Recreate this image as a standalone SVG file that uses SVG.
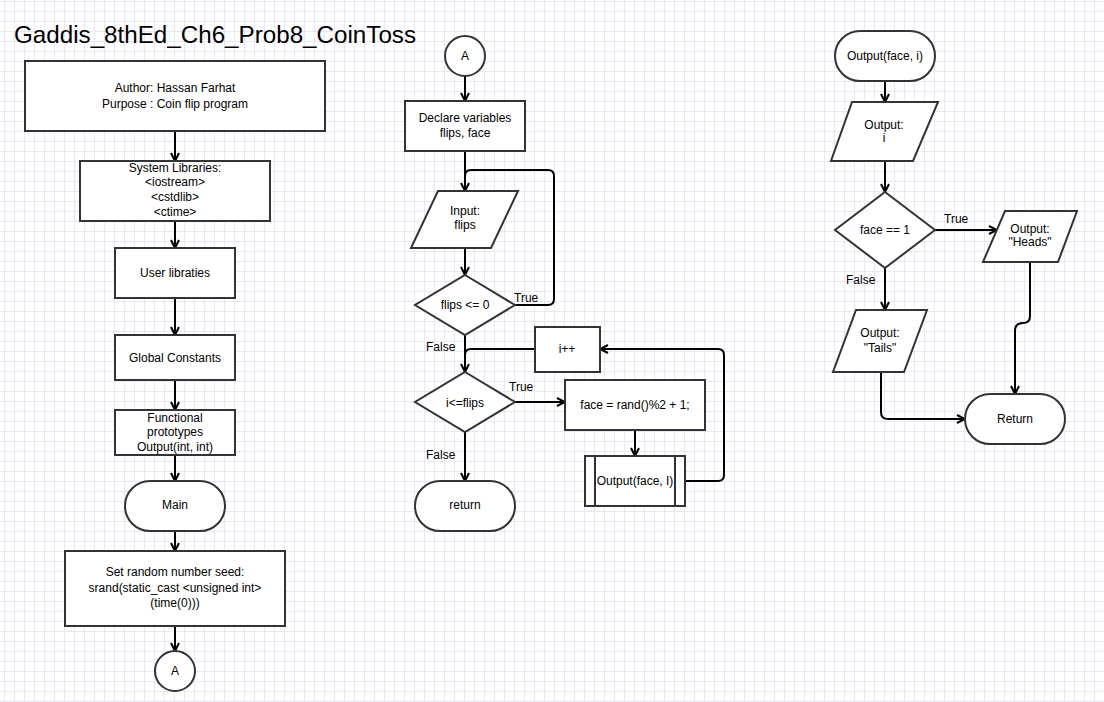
<svg xmlns="http://www.w3.org/2000/svg" width="1104" height="702" viewBox="0 0 1104 702">
<defs>
<pattern id="grid" x="0" y="0" width="10" height="10" patternUnits="userSpaceOnUse">
<path d="M4.5,0 V10 M0,1.5 H10" stroke="#e9e7f6" stroke-width="1" fill="none"/>
</pattern>
<marker id="arr" viewBox="0 0 10 10" refX="9" refY="5" markerWidth="10" markerHeight="10" markerUnits="userSpaceOnUse" orient="auto">
<path d="M1,1 L9,5 L1,9" fill="none" stroke="#000" stroke-width="2"/>
</marker>
<style>
.n{fill:#fff;stroke:#333;stroke-width:2}
.t{font-family:"Liberation Sans",Arial,sans-serif;font-size:12px;fill:#000;text-anchor:middle}
.l{font-family:"Liberation Sans",Arial,sans-serif;font-size:12px;fill:#000}
.c{fill:none;stroke:#000;stroke-width:2}
.a{fill:none;stroke:#000;stroke-width:2;marker-end:url(#arr)}
</style>
</defs>
<rect width="1104" height="702" fill="#fff"/>
<rect width="1104" height="702" fill="url(#grid)"/>
<text x="14" y="43" style="font-family:'Liberation Sans',Arial,sans-serif;font-size:24.2px;fill:#000">Gaddis_8thEd_Ch6_Prob8_CoinToss</text>

<g id="connectors">
<line class="a" x1="175" y1="131" x2="175" y2="161"/>
<line class="a" x1="175" y1="221" x2="175" y2="248"/>
<line class="a" x1="175" y1="298" x2="175" y2="335"/>
<line class="a" x1="175" y1="380" x2="175" y2="410"/>
<line class="a" x1="175" y1="455" x2="175" y2="481"/>
<line class="a" x1="175" y1="531" x2="175" y2="551"/>
<line class="a" x1="175" y1="626" x2="175" y2="651"/>

<line class="a" x1="465" y1="76" x2="465" y2="101"/>
<line class="a" x1="465" y1="151" x2="465" y2="191"/>
<path class="c" d="M515,305 H548 Q554,305 554,299 V176 Q554,170 548,170 H471 Q465,170 465,176 V190"/>
<line class="a" x1="465" y1="248" x2="465" y2="275"/>
<line class="a" x1="465" y1="335" x2="465" y2="372"/>
<path class="c" d="M535,349 H471 Q465,349 465,355 V371"/>
<line class="a" x1="515" y1="402" x2="565" y2="402"/>
<line class="a" x1="635" y1="430" x2="635" y2="456"/>
<path class="a" d="M685,481 H718 Q724,481 724,475 V355 Q724,349 718,349 H600"/>
<line class="a" x1="465" y1="432" x2="465" y2="481"/>

<line class="a" x1="885" y1="81" x2="885" y2="102"/>
<line class="a" x1="885" y1="161" x2="885" y2="192"/>
<line class="a" x1="935" y1="230" x2="997" y2="230"/>
<path class="a" d="M1030,262 V316 Q1030,323 1023,323 Q1015,323 1015,331 V394"/>
<line class="a" x1="885" y1="268" x2="885" y2="310"/>
<path class="a" d="M881,372 V412 Q881,419 888,419 H965"/>

<text class="l" x="514" y="302">True</text>
<text class="l" x="426" y="351">False</text>
<text class="l" x="509" y="391">True</text>
<text class="l" x="426" y="459">False</text>
<text class="l" x="944" y="223">True</text>
<text class="l" x="846" y="284">False</text>
</g>

<g id="author">
<rect class="n" x="25" y="61" width="300" height="70"/>
<text class="t" x="175" y="92">Author: Hassan Farhat</text>
<text class="t" x="175" y="108">Purpose : Coin flip program</text>
</g>
<g id="syslibs">
<rect class="n" x="80" y="161" width="190" height="60"/>
<text class="t" x="175" y="172">System Libraries:</text>
<text class="t" x="175" y="186">&lt;iostream&gt;</text>
<text class="t" x="175" y="201">&lt;cstdlib&gt;</text>
<text class="t" x="175" y="216">&lt;ctime&gt;</text>
</g>
<g id="userlibs">
<rect class="n" x="115" y="248" width="120" height="50"/>
<text class="t" x="175" y="277">User libraties</text>
</g>
<g id="globals">
<rect class="n" x="115" y="335" width="120" height="45"/>
<text class="t" x="175" y="362">Global Constants</text>
</g>
<g id="prototypes">
<rect class="n" x="115" y="410" width="120" height="45"/>
<text class="t" x="175" y="422">Functional</text>
<text class="t" x="175" y="436">prototypes</text>
<text class="t" x="175" y="451">Output(int, int)</text>
</g>
<g id="main">
<rect class="n" x="125" y="481" width="100" height="50" rx="25" ry="25"/>
<text class="t" x="175" y="509">Main</text>
</g>
<g id="seed">
<rect class="n" x="65" y="551" width="220" height="75"/>
<text class="t" x="175" y="576">Set random number seed:</text>
<text class="t" x="175" y="592">srand(static_cast &lt;unsigned int&gt;</text>
<text class="t" x="175" y="607">(time(0)))</text>
</g>
<g id="connA1">
<circle class="n" cx="175" cy="671" r="20"/>
<text class="t" x="175" y="675">A</text>
</g>

<g id="connA2">
<circle class="n" cx="465" cy="56" r="20"/>
<text class="t" x="465" y="60">A</text>
</g>
<g id="declare">
<rect class="n" x="405" y="101" width="120" height="50"/>
<text class="t" x="465" y="122">Declare variables</text>
<text class="t" x="465" y="137">flips, face</text>
</g>
<g id="input">
<polygon class="n" points="438,191 518,191 491,248 411,248"/>
<text class="t" x="465" y="215">Input:</text>
<text class="t" x="465" y="229">flips</text>
</g>
<g id="checkflips">
<polygon class="n" points="465,275 515,305 465,335 415,305"/>
<text class="t" x="465" y="309">flips &lt;= 0</text>
</g>
<g id="loopcond">
<polygon class="n" points="465,372 515,402 465,432 415,402"/>
<text class="t" x="465" y="407">i&lt;=flips</text>
</g>
<g id="incr">
<rect class="n" x="535" y="327" width="65" height="45"/>
<text class="t" x="567" y="353">i++</text>
</g>
<g id="face">
<rect class="n" x="565" y="380" width="140" height="50"/>
<text class="t" x="635" y="409">face = rand()%2 + 1;</text>
</g>
<g id="callout">
<rect class="n" x="585" y="456" width="100" height="50"/>
<line class="n" x1="595" y1="456" x2="595" y2="506"/>
<line class="n" x1="675" y1="456" x2="675" y2="506"/>
<text class="t" x="635" y="485">Output(face, I)</text>
</g>
<g id="return">
<rect class="n" x="415" y="481" width="100" height="50" rx="25" ry="25"/>
<text class="t" x="465" y="509">return</text>
</g>

<g id="outfunc">
<rect class="n" x="835" y="31" width="100" height="50" rx="25" ry="25"/>
<text class="t" x="885" y="60">Output(face, i)</text>
</g>
<g id="outi">
<polygon class="n" points="852,102 938,102 913,161 831,161"/>
<text class="t" x="884" y="129">Output:</text>
<text class="t" x="884" y="142">i</text>
</g>
<g id="faceeq">
<polygon class="n" points="885,192 935,230 885,268 835,230"/>
<text class="t" x="885" y="234">face == 1</text>
</g>
<g id="heads">
<polygon class="n" points="1005,211 1077,211 1058,262 983,262"/>
<text class="t" x="1030" y="233">Output:</text>
<text class="t" x="1030" y="246">"Heads"</text>
</g>
<g id="tails">
<polygon class="n" points="856,310 927,310 904,372 833,372"/>
<text class="t" x="880" y="337">Output:</text>
<text class="t" x="880" y="352">"Tails"</text>
</g>
<g id="Return">
<rect class="n" x="965" y="394" width="100" height="50" rx="25" ry="25"/>
<text class="t" x="1015" y="423">Return</text>
</g>
</svg>
